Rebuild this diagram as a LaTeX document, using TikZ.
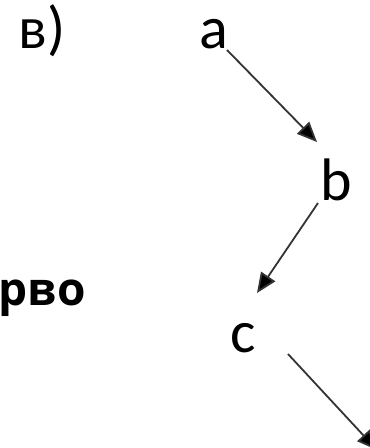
\documentclass[tikz,border=0pt]{standalone}
\usepackage{fontspec}
\setmainfont{Carlito}
\newfontfamily\boldfam{Open Sans}
\usetikzlibrary{arrows.meta}
\begin{document}
\begin{tikzpicture}[x=1pt,y=-1pt,
  lbl/.style={inner sep=0pt,font=\fontsize{60}{60}\selectfont,text=black},
  bigword/.style={inner sep=0pt,font=\boldfam\bfseries\fontsize{46}{46}\selectfont,text=black},
  arr/.style={line width=1.8pt,draw=black!80,-{Triangle[length=20pt,width=17pt,fill=black]}}]
\useasboundingbox (0,0) rectangle (370,448);
\node[lbl,anchor=base] (v) at (42,48) {в)};
\node[lbl,anchor=base] (a) at (214,48) {a};
\node[lbl,anchor=base] (b) at (336,200) {b};
\node[lbl,anchor=base] (c) at (243.5,352) {c};
\node[bigword,anchor=base east] (w) at (86,305) {ърво};
\coordinate (d) at (377,450);
\draw[arr] ([shift={(13,2)}]a.base) -- ([shift={(-19,-58)}]b.base);
\draw[arr] ([shift={(-18,3)}]b.base) -- ([shift={(13.5,-59)}]c.base);
\draw[arr] ([shift={(44.5,2)}]c.base) -- (d);
\end{tikzpicture}
\end{document}
